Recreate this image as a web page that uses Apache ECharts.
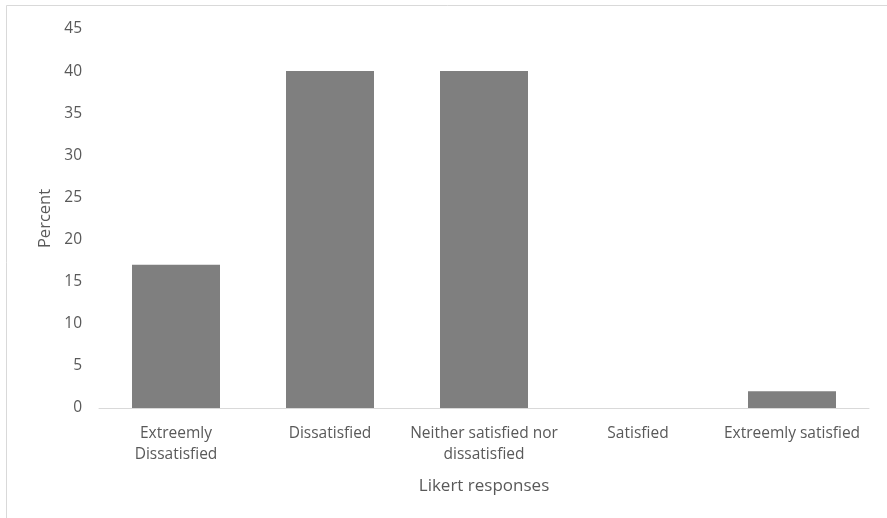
<!DOCTYPE html>
<html><head><meta charset="utf-8">
<script src="https://cdn.jsdelivr.net/npm/echarts@6/dist/echarts.min.js"></script>
<style>html,body{margin:0;padding:0;background:#fff}#c{width:887px;height:518px}</style>
</head><body><div id="c"></div>
<script>
const categories = ["Extreemly\nDissatisfied", "Dissatisfied", "Neither satisfied nor\ndissatisfied", "Satisfied", "Extreemly satisfied"];
const values = [17, 40, 40, 0, 2];
const yTicks = {min: 0, max: 45, interval: 5};

const chart = echarts.init(document.getElementById('c'), null, {renderer: 'canvas'});
const font = 'Open Sans';
chart.setOption({
  animation: false,
  backgroundColor: '#fff',
  graphic: [{type: 'rect', shape: {x: 6.5, y: 5.5, width: 900, height: 600}, style: {fill: 'none', stroke: '#d9d9d9', lineWidth: 1}, silent: true}],
  grid: {left: 99, right: 18, top: 29, bottom: 110, containLabel: false},
  xAxis: {
    type: 'category', data: categories,
    axisLine: {lineStyle: {color: '#d9d9d9', width: 1}},
    axisTick: {show: false},
    axisLabel: {color: '#595959', fontSize: 15.5, fontFamily: font, lineHeight: 21, margin: 15, interval: 0},
    name: 'Likert responses', nameLocation: 'middle', nameGap: 70,
    nameTextStyle: {color: '#595959', fontSize: 17, fontFamily: font}
  },
  yAxis: {
    type: 'value', min: yTicks.min, max: yTicks.max, interval: yTicks.interval,
    splitLine: {show: false}, axisLine: {show: false}, axisTick: {show: false},
    axisLabel: {color: '#595959', fontSize: 15.5, fontFamily: font, margin: 17},
    name: 'Percent', nameLocation: 'middle', nameGap: 44, nameRotate: 90,
    nameTextStyle: {color: '#595959', fontSize: 16.5, fontFamily: font}
  },
  series: [{type: 'bar', data: values, barWidth: 88, itemStyle: {color: '#7f7f7f'}}]
});
</script></body></html>
